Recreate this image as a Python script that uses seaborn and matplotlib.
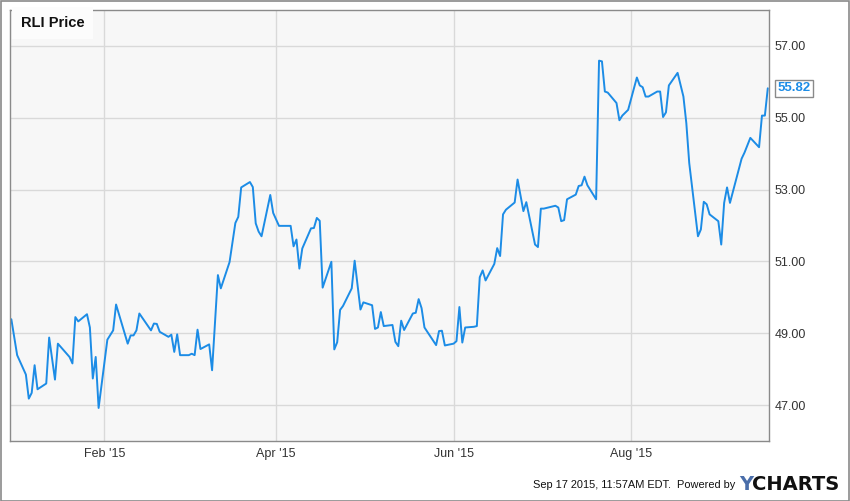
import pandas as pd
import seaborn as sns
import matplotlib
matplotlib.use('Agg')
import matplotlib.pyplot as plt
import matplotlib.dates as mdates
from matplotlib.patches import Rectangle

# RLI daily close (vertices only)
dates = [
    '2014-12-31', '2015-01-02', '2015-01-05', '2015-01-06', '2015-01-07', '2015-01-08',
    '2015-01-09', '2015-01-12', '2015-01-13', '2015-01-15', '2015-01-16', '2015-01-20',
    '2015-01-21', '2015-01-22', '2015-01-23', '2015-01-26', '2015-01-27', '2015-01-28',
    '2015-01-29', '2015-01-30', '2015-02-02', '2015-02-04', '2015-02-05', '2015-02-09',
    '2015-02-10', '2015-02-11', '2015-02-12', '2015-02-13', '2015-02-17', '2015-02-18',
    '2015-02-19', '2015-02-20', '2015-02-23', '2015-02-24', '2015-02-25', '2015-02-26',
    '2015-02-27', '2015-03-02', '2015-03-03', '2015-03-04', '2015-03-05', '2015-03-06',
    '2015-03-09', '2015-03-10', '2015-03-12', '2015-03-13', '2015-03-16', '2015-03-18',
    '2015-03-19', '2015-03-20', '2015-03-23', '2015-03-24', '2015-03-25', '2015-03-26',
    '2015-03-27', '2015-03-30', '2015-03-31', '2015-04-02', '2015-04-06', '2015-04-07',
    '2015-04-08', '2015-04-09', '2015-04-10', '2015-04-13', '2015-04-14', '2015-04-15',
    '2015-04-16', '2015-04-17', '2015-04-20', '2015-04-21', '2015-04-22', '2015-04-23',
    '2015-04-24', '2015-04-27', '2015-04-28', '2015-04-30', '2015-05-01', '2015-05-04',
    '2015-05-05', '2015-05-06', '2015-05-07', '2015-05-08', '2015-05-11', '2015-05-12',
    '2015-05-13', '2015-05-14', '2015-05-15', '2015-05-18', '2015-05-19', '2015-05-20',
    '2015-05-21', '2015-05-22', '2015-05-26', '2015-05-27', '2015-05-28', '2015-05-29',
    '2015-06-01', '2015-06-02', '2015-06-03', '2015-06-04', '2015-06-05', '2015-06-08',
    '2015-06-09', '2015-06-10', '2015-06-11', '2015-06-12', '2015-06-15', '2015-06-16',
    '2015-06-17', '2015-06-18', '2015-06-19', '2015-06-22', '2015-06-23', '2015-06-25',
    '2015-06-26', '2015-06-29', '2015-06-30', '2015-07-01', '2015-07-02', '2015-07-06',
    '2015-07-07', '2015-07-08', '2015-07-09', '2015-07-10', '2015-07-13', '2015-07-14',
    '2015-07-15', '2015-07-16', '2015-07-17', '2015-07-20', '2015-07-21', '2015-07-22',
    '2015-07-23', '2015-07-24', '2015-07-27', '2015-07-28', '2015-07-29', '2015-07-31',
    '2015-08-03', '2015-08-04', '2015-08-05', '2015-08-06', '2015-08-07', '2015-08-10',
    '2015-08-11', '2015-08-12', '2015-08-13', '2015-08-14', '2015-08-17', '2015-08-19',
    '2015-08-20', '2015-08-21', '2015-08-24', '2015-08-25', '2015-08-26', '2015-08-27',
    '2015-08-28', '2015-08-31', '2015-09-01', '2015-09-02', '2015-09-03', '2015-09-04',
    '2015-09-08', '2015-09-09', '2015-09-11', '2015-09-14', '2015-09-15', '2015-09-16',
    '2015-09-17',
]
prices = [
    49.39, 48.39, 47.85, 47.18, 47.34, 48.11,
    47.44, 47.60, 48.88, 47.71, 48.71, 48.34,
    48.16, 49.45, 49.33, 49.53, 49.16, 47.74,
    48.34, 46.92, 48.82, 49.08, 49.80, 48.71,
    48.94, 48.94, 49.08, 49.55, 49.08, 49.27,
    49.26, 49.04, 48.90, 48.96, 48.48, 48.97,
    48.39, 48.39, 48.43, 48.39, 49.10, 48.56,
    48.69, 47.97, 50.62, 50.25, 50.98, 52.07,
    52.24, 53.06, 53.21, 53.07, 52.06, 51.83,
    51.70, 52.85, 52.35, 51.99, 51.99, 51.42,
    51.61, 50.80, 51.36, 51.92, 51.93, 52.21,
    52.13, 50.27, 50.99, 48.55, 48.75, 49.65,
    49.76, 50.25, 51.02, 49.66, 49.86, 49.78,
    49.12, 49.16, 49.59, 49.20, 49.23, 48.76,
    48.64, 49.35, 49.09, 49.55, 49.57, 49.95,
    49.70, 49.16, 48.67, 49.06, 49.07, 48.66,
    48.71, 48.78, 49.73, 48.74, 49.16, 49.18,
    49.20, 50.56, 50.75, 50.47, 50.93, 51.37,
    51.15, 52.31, 52.44, 52.64, 53.28, 52.40,
    52.65, 51.47, 51.40, 52.47, 52.47, 52.55,
    52.50, 52.12, 52.15, 52.73, 52.86, 53.10,
    53.12, 53.36, 53.12, 52.73, 56.59, 56.57,
    55.73, 55.70, 55.41, 54.93, 55.06, 55.22,
    56.12, 55.90, 55.85, 55.59, 55.59, 55.73,
    55.73, 55.02, 55.15, 55.90, 56.25, 55.59,
    54.85, 53.74, 51.70, 51.89, 52.66, 52.59,
    52.31, 52.12, 51.47, 52.63, 53.06, 52.63,
    53.86, 54.03, 54.44, 54.18, 55.06, 55.06,
    55.82,
]
y_ticks = [47, 49, 51, 53, 55, 57]
series_name = 'RLI Price'
last_label = '55.82'
footer = 'Sep 17 2015, 11:57AM EDT.  Powered by'

line_color = '#1c8ce6'

sns.set_style('whitegrid', {
    'axes.facecolor': '#f7f7f7',
    'axes.edgecolor': '#8a8a8a',
    'grid.color': '#d9d9d9',
})
plt.rcParams['font.family'] = ['Liberation Sans', 'DejaVu Sans']

df = pd.DataFrame({'date': pd.to_datetime(dates), 'price': prices})

fig = plt.figure(figsize=(8.5, 5.01), dpi=100)
W, H = 850, 501
ax = fig.add_axes([10 / W, (H - 441) / H, 759 / W, 431 / H])

sns.lineplot(data=df, x='date', y='price', ax=ax, color=line_color,
             linewidth=1.4, estimator=None, sort=False)

ax.set_xlim(pd.Timestamp('2014-12-30 13:00'), pd.Timestamp('2015-09-17 10:00'))
ax.set_ylim(46.0, 58.0)
ax.set_xlabel('')
ax.set_ylabel('')

ax.xaxis.set_major_locator(mdates.MonthLocator(bymonth=[2, 4, 6, 8]))
ax.xaxis.set_major_formatter(mdates.DateFormatter("%b '%y"))
ax.set_yticks(y_ticks)
ax.yaxis.set_major_formatter(matplotlib.ticker.FormatStrFormatter('%.2f'))
ax.yaxis.tick_right()
ax.tick_params(axis='both', length=0, labelsize=9, labelcolor='#333333')
ax.tick_params(axis='y', pad=4)
ax.tick_params(axis='x', pad=5)
ax.grid(True, linewidth=1.0)
for sp in ax.spines.values():
    sp.set_visible(True)
    sp.set_color('#8a8a8a')
    sp.set_linewidth(1.0)

# series name box top-left
ax.text(11 / 759, 1 - 13 / 431, series_name, transform=ax.transAxes,
        ha='left', va='center', fontsize=10.5, fontweight='bold', color='#111111',
        bbox=dict(boxstyle='square,pad=0.6', facecolor='#fcfcfc', edgecolor='none'))

# last value label on the right axis
ax.annotate(last_label, xy=(1, prices[-1]), xycoords=('axes fraction', 'data'),
            xytext=(6, 0), textcoords='offset points', ha='left', va='center',
            fontsize=9.5, fontweight='bold', color=line_color,
            bbox=dict(boxstyle='square,pad=0.2', facecolor='white', edgecolor='#8a8a8a', lw=1.0),
            annotation_clip=False)

# footer
fig.text(735 / W, 1 - 485 / H, footer, ha='right', va='center', fontsize=7.9, color='#111111')
fig.text(739 / W, 1 - 485 / H, 'Y', ha='left', va='center', fontsize=14,
         fontweight='bold', color='#4a6eaa', family='DejaVu Sans')
fig.text(752 / W, 1 - 485 / H, 'CHARTS', ha='left', va='center', fontsize=14,
         fontweight='bold', color='#111111', family='DejaVu Sans')

# outer frame
fig.patches.append(Rectangle((0.5 / W, 0.5 / H), 1 - 1.5 / W, 1 - 1.5 / H,
                             transform=fig.transFigure, fill=False,
                             edgecolor='#8a8a8a', linewidth=1.2))

fig.savefig('out.png', dpi=100)
